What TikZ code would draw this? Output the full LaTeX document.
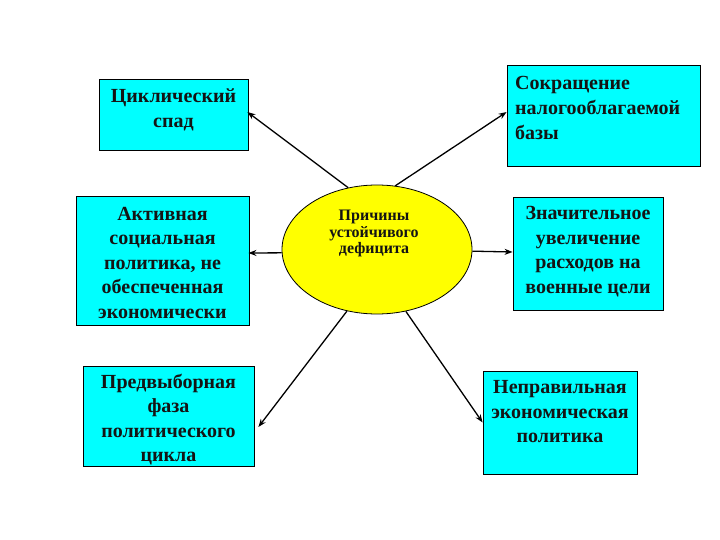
\documentclass[tikz,border=0pt]{standalone}
\usepackage{fontspec}
\setmainfont{Liberation Serif}
\usetikzlibrary{shapes.geometric,arrows.meta}
\definecolor{boxcyan}{RGB}{0,255,255}
\definecolor{ellyellow}{RGB}{255,255,0}
\definecolor{txt}{RGB}{20,20,20}
\tikzset{
  cbox/.style={draw=black,line width=0.8pt,fill=boxcyan,inner sep=0pt},
  btext/.style={font=\fontsize{20}{24.5}\selectfont\bfseries,align=center,inner sep=0pt,text=txt},
  ltext/.style={font=\fontsize{20}{25}\selectfont\bfseries,align=left,inner sep=0pt,text=txt},
  ell/.style={ellipse,draw=black,line width=0.8pt,fill=ellyellow,inner sep=0pt},
  etext/.style={font=\fontsize{16}{16.5}\selectfont\bfseries,align=center,inner sep=0pt,text=txt},
  arr/.style={-{Stealth[length=8pt,width=6pt]},line width=1.3pt,black}
}
\begin{document}
\begin{tikzpicture}[x=1pt,y=-1pt]
\useasboundingbox (0,0) rectangle (720,540);
% boxes
\node[cbox,minimum width=149pt,minimum height=71pt] (b1) at (173.5,114.5) {};
\node[cbox,minimum width=173pt,minimum height=129pt] (b2) at (162.5,260.5) {};
\node[cbox,minimum width=171pt,minimum height=100pt] (b3) at (168.5,416) {};
\node[cbox,minimum width=193pt,minimum height=101pt] (b4) at (603.5,115.5) {};
\node[cbox,minimum width=150pt,minimum height=113pt] (b5) at (588,253.5) {};
\node[cbox,minimum width=154pt,minimum height=103pt] (b6) at (560,422.5) {};
% texts
\node[btext] (t1) at (173.5,110) {Циклический\\спад};
\node[btext] (t2) at (162.5,262.5) {Активная\\социальная\\политика, не\\обеспеченная\\экономически};
\node[btext] (t3) at (168.5,419.5) {Предвыборная\\фаза\\политического\\цикла};
\node[ltext,anchor=west] (t4) at (515,107.5) {Сокращение\\налогооблагаемой\\базы};
\node[btext] (t5) at (588,251.5) {Значительное\\увеличение\\расходов на\\военные цели};
\node[btext] (t6) at (560,412) {Неправильная\\экономическая\\политика};
% ellipse
\node[ell,minimum width=190pt,minimum height=129pt] (e) at (377,249.5) {};
\node[etext] (et) at (374,233.5) {Причины\\устойчивого\\дефицита};
% arrows
\draw[arr] (e.115) -- ([yshift=2.5pt,xshift=-1pt]b1.east);
\draw[arr] (e.182) -- ([yshift=7.5pt,xshift=-1pt]b2.east);
\draw[arr] (e.244) -- ([yshift=-11pt,xshift=4pt]b3.east);
\draw[arr] (e.74) -- ([yshift=3.5pt]b4.west);
\draw[arr] (e.-1.5) -- ([yshift=1.5pt]b5.west);
\draw[arr] (e.295) -- (b6.west);
\end{tikzpicture}
\end{document}
